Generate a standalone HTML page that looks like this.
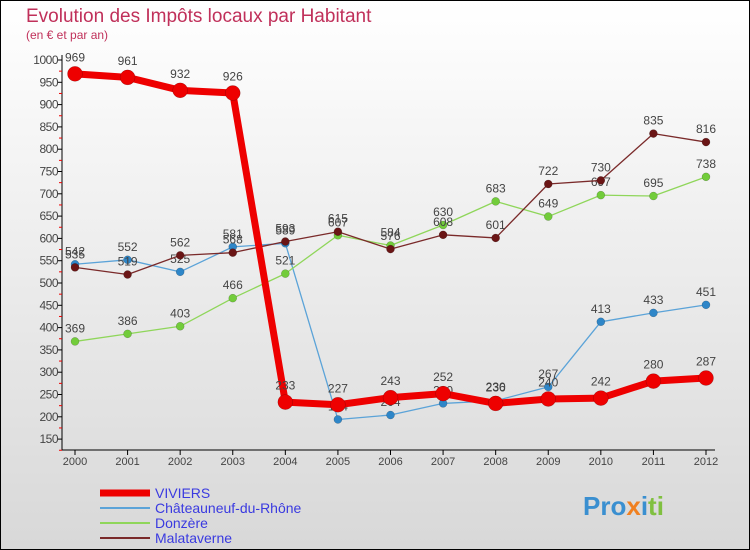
<!DOCTYPE html>
<html><head><meta charset="utf-8"><style>
html,body{margin:0;padding:0}
body{width:750px;height:550px;overflow:hidden;font-family:"Liberation Sans","DejaVu Sans",sans-serif}
#wrap{position:absolute;left:0;top:0;width:748px;height:548px;border:1px solid #000;background:linear-gradient(#fff,#d8d8d8)}
</style></head><body>
<div id="wrap">
<svg id="svg" width="750" height="550" style="position:absolute;left:-1px;top:-1px">
<text x="26" y="22" font-size="19" fill="#c0305a">Evolution des Impôts locaux par Habitant</text>
<text x="26" y="39" font-size="12" fill="#c0305a">(en € et par an)</text>
<g id="axes"></g><g id="series"></g><g id="legend"></g>
<text x="583" y="515" font-size="26" font-weight="bold"><tspan fill="#3a8fd0">Pro</tspan><tspan fill="#f08020">x</tspan><tspan fill="#3a8fd0">i</tspan><tspan fill="#80c040">ti</tspan></text>
</svg></div>
<script>
const years=[2000,2001,2002,2003,2004,2005,2006,2007,2008,2009,2010,2011,2012];
const yTicks=[150,200,250,300,350,400,450,500,550,600,650,700,750,800,850,900,950,1000];
const viviers=[969,961,932,926,233,227,243,252,230,240,242,280,287];
const chateauneuf=[542,552,525,581,589,194,204,230,236,267,413,433,451];
const donzere=[369,386,403,466,521,607,584,630,683,649,697,695,738];
const malataverne=[535,519,562,568,593,615,576,608,601,722,730,835,816];
const seriesNames=["VIVIERS","Châteauneuf-du-Rhône","Donzère","Malataverne"];
const NS="http://www.w3.org/2000/svg";
function X(i){return 75+i*(706-75)/(years.length-1);}
function Y(v){return 60+(1000-v)*0.446;}
function mk(t,a,p){const e=document.createElementNS(NS,t);for(const k in a)e.setAttribute(k,a[k]);p.appendChild(e);return e;}
const ax=document.getElementById('axes');
let l=mk('line',{x1:62,y1:55,x2:62,y2:450,stroke:'#000','stroke-width':1},ax);


l=mk('line',{x1:62,y1:450,x2:715,y2:450,stroke:'#000','stroke-width':1},ax);


yTicks.forEach(v=>{const y=Y(v);
 mk('line',{x1:57,y1:y,x2:62,y2:y,stroke:'#000'},ax);
 mk('line',{x1:59,y1:y+11.15,x2:62,y2:y+11.15,stroke:'#e00'},ax);
 const t=mk('text',{x:58,y:y+4,'font-size':12,fill:'#444','text-anchor':'end','letter-spacing':'-0.5'},ax);t.textContent=v;
 
 });
years.forEach((yr,i)=>{const x=X(i);
 mk('line',{x1:x,y1:450,x2:x,y2:455,stroke:'#000'},ax);
 const t=mk('text',{x:x,y:465,'font-size':11,fill:'#444','text-anchor':'middle'},ax);t.textContent=yr;
 
 });
const sg=document.getElementById('series');
function draw(vals,color,dot,w,r,name){
 const g=mk('g',{},sg);
 
 
 mk('polyline',{points:vals.map((v,i)=>X(i)+','+Y(v)).join(' '),fill:'none',stroke:color,'stroke-width':w,'stroke-linejoin':'round'},g);
 vals.forEach((v,i)=>{const c=mk('circle',{cx:X(i),cy:Y(v),r:r,fill:dot,stroke:'rgba(0,0,0,0.3)','stroke-width':0.5},g);
  
  
  const t=mk('text',{x:X(i),y:Y(v)-(r+5),'font-size':12,fill:'#444','text-anchor':'middle'},g);t.textContent=v;
  
  });
}
draw(chateauneuf,'#5ba3d8','#2e86c8',1.3,4,'series-chateauneuf');
draw(donzere,'#8fd65a','#72cc3a',1.3,4,'series-donzere');
draw(malataverne,'#7a2a2a','#6a1515',1.3,4,'series-malataverne');
draw(viviers,'#ee0000','#ee0000',7,7.5,'series-viviers');
const lg=document.getElementById('legend');
const lc=['#ee0000','#5ba3d8','#8fd65a','#7a2a2a'],lw=[7,2,2,2];
seriesNames.forEach((n,i)=>{const y=493+i*15;
 const g=mk('g',{},lg);
 
 
 mk('line',{x1:100,y1:y,x2:150,y2:y,stroke:lc[i],'stroke-width':lw[i]},g);
 const t=mk('text',{x:155,y:y+5,'font-size':14,fill:'#3a3ae0'},g);t.textContent=n;});
</script>
</body></html>
